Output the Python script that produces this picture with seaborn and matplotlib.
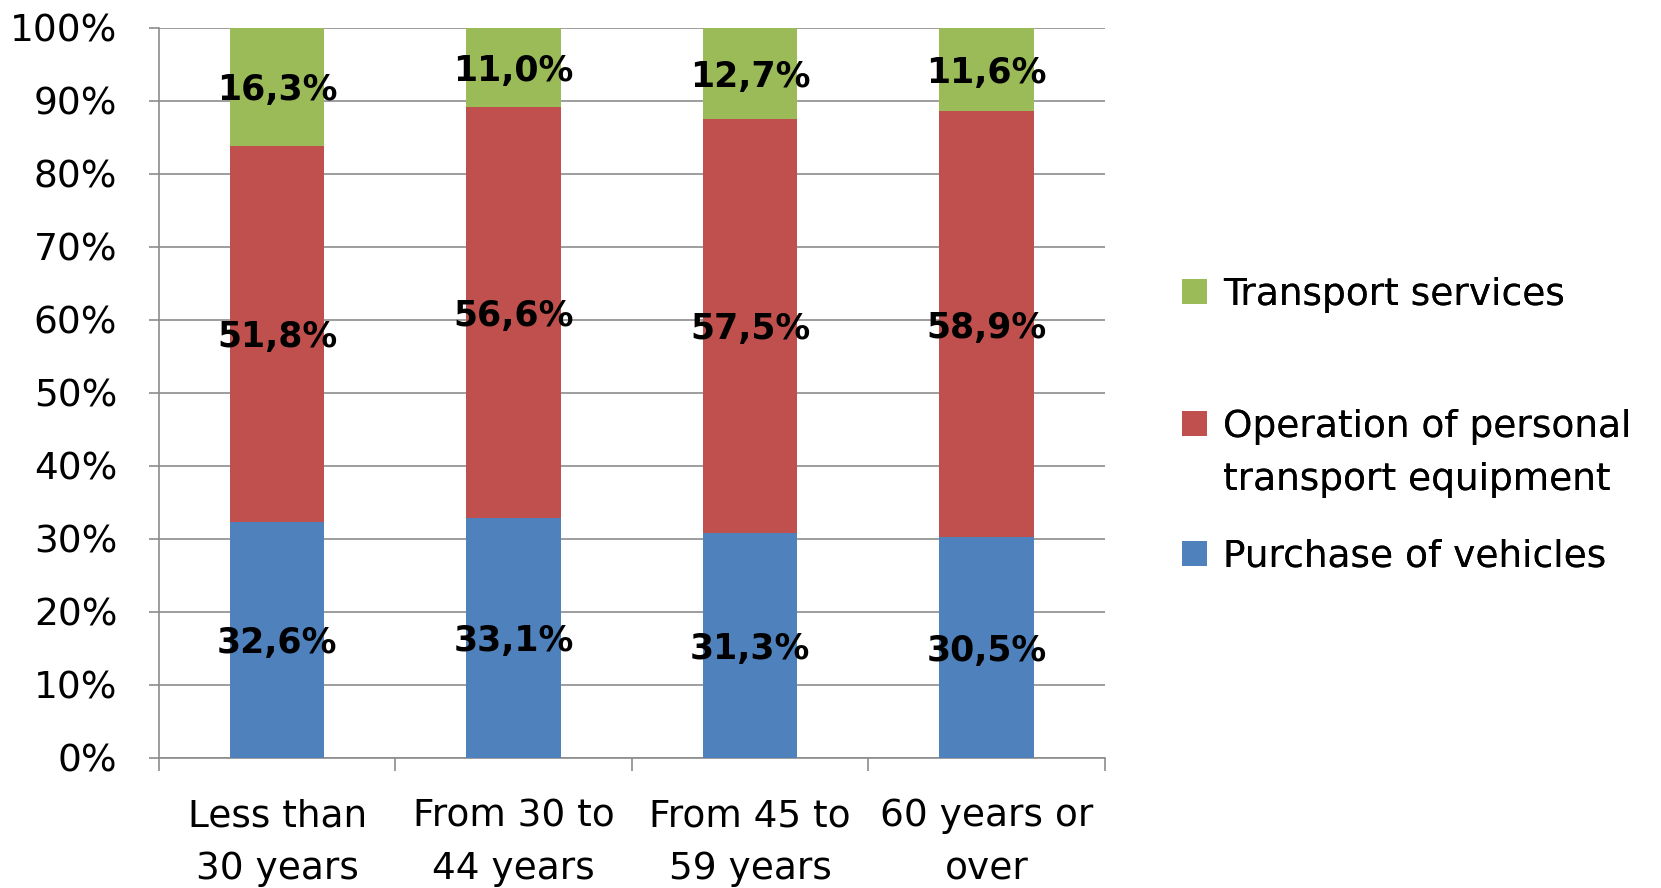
import matplotlib
matplotlib.use("Agg")
import matplotlib.pyplot as plt
import matplotlib.patches as mpatches
import numpy as np
import pandas as pd
import seaborn as sns

# Transport expenditure shares by age group of household reference person
age_groups = ["Less than\n30 years", "From 30 to\n44 years", "From 45 to\n59 years", "60 years or\nover"]
purchase = [32.6, 33.1, 31.3, 30.5]
operation = [51.8, 56.6, 57.5, 58.9]
services = [16.3, 11.0, 12.7, 11.6]
y_ticks = [0, 10, 20, 30, 40, 50, 60, 70, 80, 90, 100]

series_names = ["Purchase of vehicles", "Operation of personal\ntransport equipment", "Transport services"]
colors = ["#4F81BD", "#C0504D", "#9BBB59"]

sns.set_theme(style="white")
plt.rcParams["font.family"] = ["DejaVu Sans"]

raw = np.array([purchase, operation, services])
share = raw / raw.sum(axis=0) * 100          # 100 % stacked
cum = np.cumsum(share, axis=0)

df = pd.DataFrame({"group": age_groups,
                   "c0": cum[0], "c1": cum[1], "c2": cum[2]})

fig = plt.figure(figsize=(16.61, 8.88), dpi=100)
ax = fig.add_axes([0.0957, 0.1464, 0.5695, 0.8226])

# draw from the top layer down so each lower layer covers the one beneath
for col, color in zip(["c2", "c1", "c0"], colors[::-1]):
    sns.barplot(data=df, x="group", y=col, color=color, width=0.4,
                saturation=1, ax=ax, zorder=3, linewidth=0)

for i in range(len(age_groups)):
    for k in range(3):
        mid = cum[k, i] - share[k, i] / 2
        ax.text(i, mid, f"{raw[k, i]:.1f}%".replace(".", ","),
                ha="center", va="center_baseline", fontsize=25,
                fontweight="bold", color="black", zorder=5)

ax.set_xlim(-0.5, 3.5)
ax.set_ylim(0, 100)
ax.set_yticks(y_ticks)
ax.set_yticklabels([f"{t}%" for t in y_ticks])
ax.set_xlabel("")
ax.set_ylabel("")

ax.yaxis.grid(True, color="#8C8C8C", linewidth=1.2, zorder=0)
ax.set_axisbelow(True)
for s in ["top", "right"]:
    ax.spines[s].set_visible(False)
for s in ["left", "bottom"]:
    ax.spines[s].set_color("#8C8C8C")
    ax.spines[s].set_linewidth(1.2)

ax.tick_params(axis="y", which="major", left=True, length=7, width=1.2,
               color="#8C8C8C", pad=23, labelsize=27, labelcolor="#000000")
ax.tick_params(axis="x", which="major", bottom=False, length=0, pad=29,
               labelsize=27, labelcolor="#000000")
ax.set_xticks(np.arange(-0.5, 4, 1), minor=True)
ax.tick_params(axis="x", which="minor", bottom=True, length=9, width=1.2,
               color="#8C8C8C")
for lab in ax.get_xticklabels():
    lab.set_linespacing(1.6)

# legend entries placed one by one (green, red over two lines, blue)
leg_kw = dict(loc="center left", frameon=False, fontsize=27, borderpad=0,
              handlelength=0.65, handleheight=0.65, handletextpad=0.43,
              labelcolor="#000000")
op_lines = series_names[1].split("\n")
entries = [
    (mpatches.Patch(facecolor=colors[2], edgecolor="none"), series_names[2], 0.668),
    (mpatches.Patch(facecolor=colors[1], edgecolor="none"), op_lines[0], 0.519),
    (mpatches.Patch(facecolor="none", edgecolor="none"), op_lines[1], 0.459),
    (mpatches.Patch(facecolor=colors[0], edgecolor="none"), series_names[0], 0.373),
]
for handle, label, yc in entries:
    lg = fig.legend([handle], [label], bbox_to_anchor=(0.7005, yc), **leg_kw)
    fig.add_artist(lg)

fig.savefig("out.png", dpi=100, facecolor="white")
